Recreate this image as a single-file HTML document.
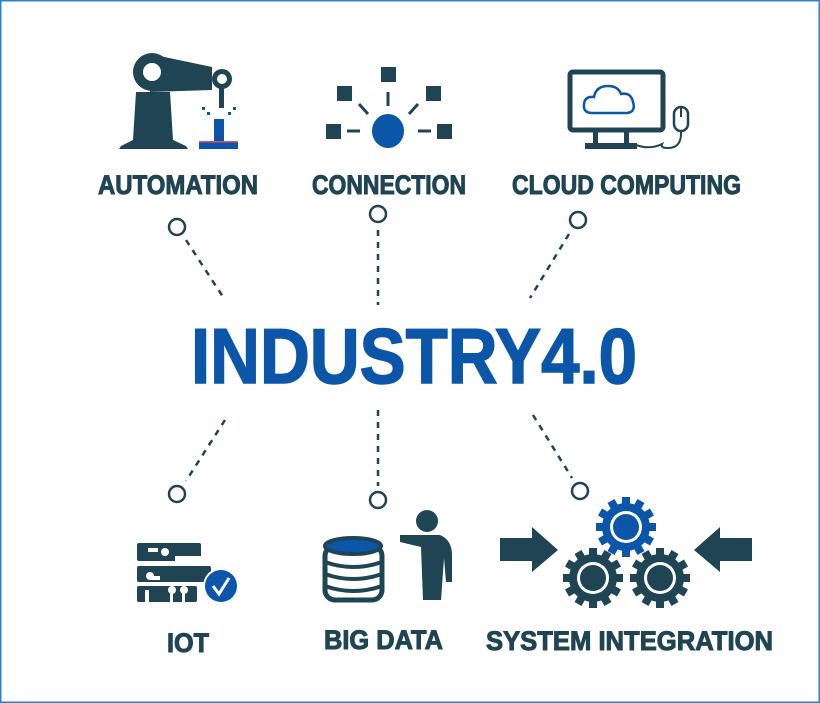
<!DOCTYPE html>
<html><head><meta charset="utf-8"><style>
html,body{margin:0;padding:0;background:#fff;}
svg{display:block;}
text{font-family:"Liberation Sans Narrow","Liberation Sans",sans-serif;font-weight:bold;}
</style></head><body>
<svg width="820" height="703" viewBox="0 0 820 703" xmlns="http://www.w3.org/2000/svg">
<rect x="0.5" y="0.5" width="819" height="702" fill="#fff" stroke="#2f7fd0" stroke-width="2"/>
<defs>
<g id="gear">
<circle r="24" fill="#1f4555"/>
<g fill="#1f4555">
<rect x="-4" y="-30" width="8" height="60"/>
<rect x="-4" y="-30" width="8" height="60" transform="rotate(30)"/>
<rect x="-4" y="-30" width="8" height="60" transform="rotate(60)"/>
<rect x="-4" y="-30" width="8" height="60" transform="rotate(90)"/>
<rect x="-4" y="-30" width="8" height="60" transform="rotate(120)"/>
<rect x="-4" y="-30" width="8" height="60" transform="rotate(150)"/>
</g>
<circle r="16" fill="#fff"/>
<circle r="13" fill="#1f4555"/>
</g>
</defs>
<!-- Automation icon -->
<g fill="#1f4555">
<path d="M136 92 L170 92 L173 140 L186 146 L188 149 L119 149 L121 146 L133 140 Z"/>
<circle cx="152" cy="72" r="19"/>
<path d="M150 54 L212 67 L212 90 L150 92 Z"/>
<circle cx="222" cy="79" r="10"/>
<rect x="219" y="86" width="5" height="22"/>
</g>
<circle cx="152" cy="72" r="9" fill="#fff"/>
<circle cx="222" cy="79" r="5" fill="#fff"/>
<g fill="#0b56a8">
<rect x="214" y="119" width="10" height="26"/>
<rect x="199" y="141" width="39" height="8"/>
<rect x="202" y="107" width="3" height="3"/><rect x="207" y="112" width="3" height="3"/>
<rect x="233" y="107" width="3" height="3"/><rect x="228" y="112" width="3" height="3"/>
</g>
<rect x="199" y="141" width="39" height="1.5" fill="#e05060"/>
<!-- Connection icon -->
<g fill="#1f4555">
<rect x="381" y="67" width="15" height="15"/>
<rect x="337" y="86" width="15" height="15"/>
<rect x="426" y="86" width="15" height="15"/>
<rect x="326" y="124" width="15" height="15"/>
<rect x="437" y="124" width="15" height="15"/>
</g>
<g stroke="#1f4555" stroke-width="3">
<line x1="388" y1="92" x2="388" y2="106"/>
<line x1="359" y1="104" x2="368" y2="114"/>
<line x1="418" y1="104" x2="409" y2="114"/>
<line x1="347" y1="131" x2="360" y2="131"/>
<line x1="418" y1="131" x2="431" y2="131"/>
</g>
<ellipse cx="388" cy="131" rx="16" ry="17" fill="#0b56a8"/>
<!-- Cloud computing icon -->
<rect x="570" y="72" width="93" height="58" rx="3" fill="none" stroke="#1f4555" stroke-width="5"/>
<rect x="593" y="130" width="5" height="14" fill="#1f4555"/>
<rect x="624" y="130" width="5" height="14" fill="#1f4555"/>
<rect x="585" y="143" width="52" height="6" fill="#1f4555"/>
<path d="M592 113 Q583 113 584 104 Q585 96 594 97 Q596 86 608 86 Q618 86 621 94 Q631 92 633 102 Q636 112 627 113 Z" fill="none" stroke="#0b56a8" stroke-width="2.5"/>
<rect x="674" y="107" width="14" height="24" rx="7" fill="none" stroke="#1f4555" stroke-width="2.5"/>
<line x1="681" y1="108" x2="681" y2="117" stroke="#1f4555" stroke-width="2"/>
<path d="M681 131 Q682 148 668 148 Q660 148 662 144 Q650 150 636 145" fill="none" stroke="#1f4555" stroke-width="2"/>
<!-- Top labels -->
<g fill="#1f4555" stroke="#1f4555" stroke-width="1" font-size="27">
<text x="98" y="194" textLength="160" lengthAdjust="spacingAndGlyphs">AUTOMATION</text>
<text x="312" y="194" textLength="154" lengthAdjust="spacingAndGlyphs">CONNECTION</text>
<text x="512" y="194" textLength="229" lengthAdjust="spacingAndGlyphs">CLOUD COMPUTING</text>
</g>
<!-- Connectors -->
<g fill="#fff" stroke="#1f4555" stroke-width="2.5">
<circle cx="177" cy="227" r="8"/><circle cx="378" cy="214" r="8"/><circle cx="578" cy="220" r="8"/>
<circle cx="177" cy="494" r="8"/><circle cx="378" cy="500" r="8"/><circle cx="580" cy="491" r="8"/>
</g>
<g stroke="#1f4555" stroke-width="2.5" stroke-dasharray="6,6">
<line x1="186" y1="240" x2="225" y2="300"/>
<line x1="378" y1="230" x2="378" y2="305"/>
<line x1="569" y1="234" x2="530" y2="298"/>
<line x1="225" y1="420" x2="186" y2="481"/>
<line x1="378" y1="410" x2="378" y2="486"/>
<line x1="533" y1="415" x2="572" y2="478"/>
</g>
<!-- Title -->
<text x="191" y="383" font-size="78" fill="#0b56a8" stroke="#0b56a8" stroke-width="1.5" textLength="446" lengthAdjust="spacingAndGlyphs">INDUSTRY4.0</text>
<!-- IOT icon -->
<g fill="#1f4555">
<rect x="137" y="543" width="64" height="18" rx="2"/>
<rect x="137" y="566" width="74" height="16" rx="2"/>
<rect x="137" y="586" width="60" height="16" rx="2"/>
</g>
<g fill="#fff">
<rect x="148" y="548" width="10" height="4"/><circle cx="165" cy="552" r="4"/>
<rect x="175" y="556" width="30" height="6"/>
<circle cx="150" cy="576" r="4"/><rect x="150" y="576" width="10" height="4"/>
<rect x="145" y="590" width="4" height="12"/>
<circle cx="172" cy="590" r="4"/><circle cx="184" cy="590" r="4"/>
<rect x="170" y="590" width="3" height="12"/><rect x="182" y="590" width="3" height="12"/>
</g>
<circle cx="221" cy="586" r="18" fill="#fff"/>
<circle cx="221" cy="586" r="16" fill="#0b56a8"/>
<path d="M213 586 L219 594 L229 578" fill="none" stroke="#fff" stroke-width="3"/>
<!-- Big data icon -->
<g stroke="#1f4555" stroke-width="5" fill="#fff">
<rect x="325" y="546" width="57" height="54" rx="10"/>
</g>
<ellipse cx="353" cy="546" rx="28" ry="8" fill="#0b56a8" stroke="#1f4555" stroke-width="4"/>
<g stroke="#1f4555" stroke-width="4" fill="none">
<path d="M325 562 Q353 572 382 562"/><path d="M325 574 Q353 584 382 574"/><path d="M325 586 Q353 596 382 586"/>
</g>
<g fill="#1f4555">
<circle cx="427" cy="521" r="11"/>
<path d="M400 535 L440 535 Q452 540 452 555 L452 582 L446 582 L444 558 L441 600 L423 600 L421 547 L400 542 Z"/>
</g>
<!-- System integration icon -->
<g fill="#1f4555">
<path d="M500 538 L532 538 L532 527 L558 550 L532 572 L532 561 L500 561 Z"/>
<path d="M752 538 L720 538 L720 527 L694 550 L720 572 L720 561 L752 561 Z"/>
</g>
<use href="#gear" x="593" y="578"/>
<use href="#gear" x="660" y="578"/>
<g transform="translate(626,527)">
<circle r="24" fill="#0b56a8"/>
<g fill="#0b56a8">
<rect x="-4" y="-30" width="8" height="60"/>
<rect x="-4" y="-30" width="8" height="60" transform="rotate(30)"/>
<rect x="-4" y="-30" width="8" height="60" transform="rotate(60)"/>
<rect x="-4" y="-30" width="8" height="60" transform="rotate(90)"/>
<rect x="-4" y="-30" width="8" height="60" transform="rotate(120)"/>
<rect x="-4" y="-30" width="8" height="60" transform="rotate(150)"/>
</g>
<circle r="16" fill="#fff"/><circle r="13" fill="#0b56a8"/>
</g>
<!-- Bottom labels -->
<g fill="#1f4555" stroke="#1f4555" stroke-width="1" font-size="27">
<text x="167" y="652" textLength="42" lengthAdjust="spacingAndGlyphs">IOT</text>
<text x="324" y="649" textLength="119" lengthAdjust="spacingAndGlyphs">BIG DATA</text>
<text x="486" y="650" textLength="287" lengthAdjust="spacingAndGlyphs">SYSTEM INTEGRATION</text>
</g>
</svg>
</body></html>
